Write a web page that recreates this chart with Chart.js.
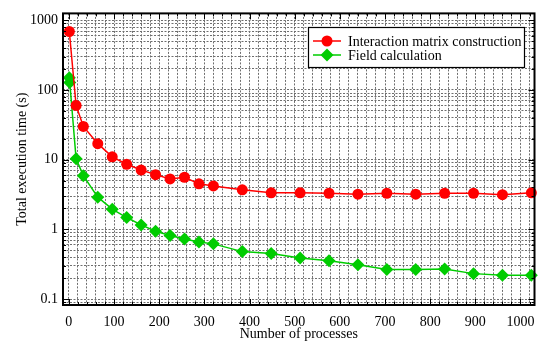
<!DOCTYPE html>
<html>
<head>
<meta charset="utf-8">
<script src="https://cdn.jsdelivr.net/npm/chart.js@4/dist/chart.umd.min.js"></script>
<style>
  html, body { margin: 0; padding: 0; background: #fff; }
  #wrap { width: 541px; height: 345px; }
</style>
</head>
<body>
<div id="wrap"><canvas id="chart" width="541" height="345"></canvas></div>
<script>
// values
const matrixProcs = [1, 16, 32, 64, 96, 128, 160, 192, 224, 256, 288, 320, 384, 448, 512, 576, 640, 704, 768, 832, 896, 960, 1024]
const matrixTime  = [690, 60, 30, 17, 11, 8.6, 7.1, 6.1, 5.3, 5.6, 4.5, 4.2, 3.7, 3.35, 3.35, 3.3, 3.2, 3.3, 3.2, 3.3, 3.3, 3.15, 3.35]

const fieldProcs = [1, 2, 16, 32, 64, 96, 128, 160, 192, 224, 256, 288, 320, 384, 448, 512, 576, 640, 704, 768, 832, 896, 960, 1024]
const fieldTime  = [150, 128, 10.3, 5.9, 2.9, 1.95, 1.48, 1.16, 0.94, 0.82, 0.73, 0.66, 0.62, 0.48, 0.45, 0.39, 0.355, 0.31, 0.265, 0.265, 0.27, 0.232, 0.22, 0.22]

const seriesLabels = ['Interaction matrix construction', 'Field calculation']
const procTicks = [0, 100, 200, 300, 400, 500, 600, 700, 800, 900, 1000]
const timeTicks = [0.1, 1, 10, 100, 1000]

const RED = '#ff0000'
const GREEN = '#00cc00'
const FONT = '"Liberation Serif", "DejaVu Serif", serif'
const GRID = { color: '#6e6e6e', lineWidth: 1, drawTicks: false }

const toPoints = (xs, ys) => xs.map((x, i) => ({ x, y: ys[i] }))
const isDecade = v => timeTicks.some(t => Math.abs(t - v) < t * 1e-6)

function diamond(ctx, x, y, r) {
  ctx.beginPath()
  ctx.moveTo(x, y - r); ctx.lineTo(x + r, y); ctx.lineTo(x, y + r); ctx.lineTo(x - r, y)
  ctx.closePath(); ctx.fill()
}

// inward ticks on all four sides, frame, and the boxed legend inside the plot
const frameAndLegend = {
  id: 'frameAndLegend',
  afterDraw(chart) {
    const { ctx, chartArea: a, scales: { x, y } } = chart
    ctx.save()
    ctx.strokeStyle = '#000'
    ctx.lineWidth = 1
    ctx.beginPath()
    x.ticks.forEach(t => {
      const px = Math.round(x.getPixelForValue(t.value)) + 0.5
      const len = t.value % 100 === 0 ? 6 : 3
      ctx.moveTo(px, a.bottom); ctx.lineTo(px, a.bottom - len)
      ctx.moveTo(px, a.top); ctx.lineTo(px, a.top + len)
    })
    y.ticks.forEach(t => {
      const py = Math.round(y.getPixelForValue(t.value)) + 0.5
      const len = isDecade(t.value) ? 6 : 3
      ctx.moveTo(a.left, py); ctx.lineTo(a.left + len, py)
      ctx.moveTo(a.right, py); ctx.lineTo(a.right - len, py)
    })
    ctx.stroke()
    ctx.lineWidth = 2
    ctx.strokeRect(a.left, a.top, a.right - a.left, a.bottom - a.top)

    // legend box
    const bx = 308, by = 27, bw = 216, bh = 40
    ctx.fillStyle = '#fff'
    ctx.fillRect(bx, by, bw, bh)
    ctx.lineWidth = 1.2
    ctx.strokeRect(bx + 0.5, by + 0.5, bw, bh)
    ctx.font = '14px ' + FONT
    ctx.textBaseline = 'middle'
    chart.data.datasets.forEach((ds, i) => {
      const ly = by + 14 + i * 14
      ctx.strokeStyle = ds.borderColor
      ctx.lineWidth = 1.5
      ctx.beginPath(); ctx.moveTo(313, ly); ctx.lineTo(341, ly); ctx.stroke()
      ctx.fillStyle = ds.backgroundColor
      if (ds.pointStyle === 'rectRot') diamond(ctx, 327, ly, 6.5)
      else { ctx.beginPath(); ctx.arc(327, ly, 5.5, 0, Math.PI * 2); ctx.fill() }
      ctx.fillStyle = '#000'
      ctx.fillText(ds.label, 348, ly + 1)
    })
    ctx.restore()
  }
}

new Chart(document.getElementById('chart'), {
  type: 'line',
  data: {
    datasets: [
      {
        label: seriesLabels[0],
        data: toPoints(matrixProcs, matrixTime),
        borderColor: RED,
        backgroundColor: RED,
        borderWidth: 1.5,
        pointStyle: 'circle',
        pointRadius: 5.5,
        pointBorderWidth: 0,
        tension: 0,
        clip: 8,
      },
      {
        label: seriesLabels[1],
        data: toPoints(fieldProcs, fieldTime),
        borderColor: GREEN,
        backgroundColor: GREEN,
        borderWidth: 1.5,
        pointStyle: 'rectRot',
        pointRadius: 6.5,
        pointBorderWidth: 0,
        tension: 0,
        clip: 8,
      },
    ],
  },
  options: {
    responsive: false,
    animation: false,
    devicePixelRatio: 1,
    layout: { padding: { top: 8, right: 3, left: 0, bottom: 0 } },
    plugins: {
      legend: { display: false },
      tooltip: { enabled: false },
    },
    scales: {
      x: {
        type: 'linear',
        min: -13,
        max: 1031,
        afterFit: s => { s.height = 40 },
        grid: GRID,
        border: { display: false, dash: [2, 1.5] },
        ticks: {
          stepSize: 20,
          includeBounds: false,
          autoSkip: false,
          maxRotation: 0,
          padding: 9,
          color: '#000',
          font: { family: FONT, size: 14 },
          callback: v => procTicks.includes(v) ? String(v) : '',
        },
        title: {
          display: true,
          text: 'Number of processes',
          color: '#000',
          font: { family: FONT, size: 14 },
          padding: { top: 0, bottom: 2 },
        },
      },
      y: {
        type: 'logarithmic',
        min: 0.0823,
        max: 1255,
        afterFit: s => { s.width = 63 },
        afterBuildTicks: s => {
          const out = []
          for (let e = -2; e <= 3; e++) {
            for (let m = 1; m <= 9; m++) {
              const v = +(m * Math.pow(10, e)).toPrecision(3)
              if (v >= s.min && v <= s.max) out.push({ value: v })
            }
          }
          s.ticks = out
        },
        grid: GRID,
        border: { display: false, dash: [2, 1.5] },
        ticks: {
          autoSkip: false,
          padding: 5,
          color: '#000',
          font: { family: FONT, size: 14 },
          callback: v => isDecade(v) ? String(v) : '',
        },
        title: {
          display: true,
          text: 'Total execution time (s)',
          color: '#000',
          font: { family: FONT, size: 14 },
          padding: { top: 14, bottom: 0 },
        },
      },
    },
  },
  plugins: [frameAndLegend],
})
</script>
</body>
</html>
